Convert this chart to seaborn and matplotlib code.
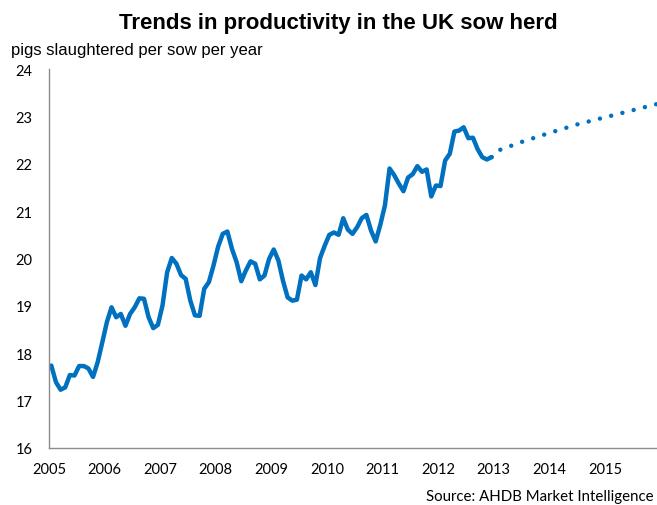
import numpy as np
import pandas as pd
import matplotlib
matplotlib.use("Agg")
import matplotlib.pyplot as plt
import seaborn as sns

# ---- data ----
start_year = 2005
pigs_per_sow = [
    17.74, 17.39, 17.23, 17.28, 17.54, 17.53, 17.73, 17.73, 17.68, 17.50, 17.81, 18.23,
    18.66, 18.97, 18.76, 18.83, 18.58, 18.83, 18.97, 19.16, 19.15, 18.76, 18.53, 18.60,
    19.01, 19.71, 20.01, 19.89, 19.65, 19.57, 19.11, 18.80, 18.79, 19.36, 19.50, 19.85,
    20.25, 20.52, 20.57, 20.20, 19.92, 19.52, 19.75, 19.94, 19.89, 19.56, 19.64, 19.99,
    20.19, 19.96, 19.53, 19.18, 19.11, 19.13, 19.64, 19.56, 19.71, 19.44, 20.01, 20.27,
    20.50, 20.55, 20.50, 20.85, 20.61, 20.52, 20.66, 20.85, 20.92, 20.59, 20.36, 20.71,
    21.12, 21.90, 21.76, 21.58, 21.42, 21.71, 21.78, 21.95, 21.83, 21.88, 21.31, 21.54,
    21.53, 22.07, 22.21, 22.68, 22.70, 22.77, 22.54, 22.55, 22.31, 22.14, 22.09, 22.14,
]
forecast_years = [2012.96, 2013.08, 2013.5, 2014.0, 2014.5, 2015.0, 2015.5, 2016.0]
forecast_values = [22.14, 22.28, 22.46, 22.65, 22.83, 22.98, 23.13, 23.28]
year_ticks = list(range(2005, 2016))
y_ticks = list(range(16, 25))

title = "Trends in productivity in the UK sow herd"
ylabel = "pigs slaughtered per sow per year"
source = "Source: AHDB Market Intelligence"

# ---- frames ----
actual = pd.DataFrame({
    "year": start_year + (np.arange(len(pigs_per_sow)) + 0.5) / 12,
    "value": pigs_per_sow,
})
forecast = pd.DataFrame({"year": forecast_years, "value": forecast_values})

sns.set_style("white")
plt.rcParams["font.family"] = ["Lato", "DejaVu Sans"]
plt.rcParams["text.color"] = "black"

blue = "#0070C0"
grey = "#8C8C8C"

fig = plt.figure(figsize=(6.57, 5.06), dpi=100)
ax = fig.add_axes([49 / 657, 1 - 449 / 506, 608 / 657, (449 - 70) / 506])

sns.lineplot(data=actual, x="year", y="value", ax=ax, color=blue, lw=3.2,
             solid_joinstyle="round", solid_capstyle="round")
sns.lineplot(data=forecast, x="year", y="value", ax=ax, color=blue, lw=3.2,
             linestyle=(0, (0.01, 2.6)), dash_capstyle="round")

ax.set_xlim(2005, 2005 + 608 / 55.6)
ax.set_ylim(16, 24)
ax.set_xticks(year_ticks)
ax.set_xticklabels([str(y) for y in year_ticks])
ax.set_yticks(y_ticks)
ax.set_xlabel("")
ax.set_ylabel("")

for side in ["top", "right"]:
    ax.spines[side].set_visible(False)
for side in ["left", "bottom"]:
    ax.spines[side].set_color(grey)
    ax.spines[side].set_linewidth(1.0)
ax.tick_params(axis="both", which="major", direction="out", length=5, width=1,
               color=grey, labelsize=10.5, labelcolor="black")
ax.tick_params(axis="y", pad=7)
ax.tick_params(axis="x", pad=5)
ax.grid(False)

fig.text(338 / 657, 1 - 23 / 506, title, ha="center", va="center", color="black",
         fontsize=16, fontweight="bold", family=["Liberation Sans", "DejaVu Sans"])
fig.text(11 / 657, 1 - 51 / 506, ylabel, ha="left", va="center", color="black",
         fontsize=12, family=["Liberation Sans", "DejaVu Sans"])
fig.text(654 / 657, 1 - 497 / 506, source, ha="right", va="center", color="black",
         fontsize=10.8)

fig.savefig("out.png", dpi=100)
